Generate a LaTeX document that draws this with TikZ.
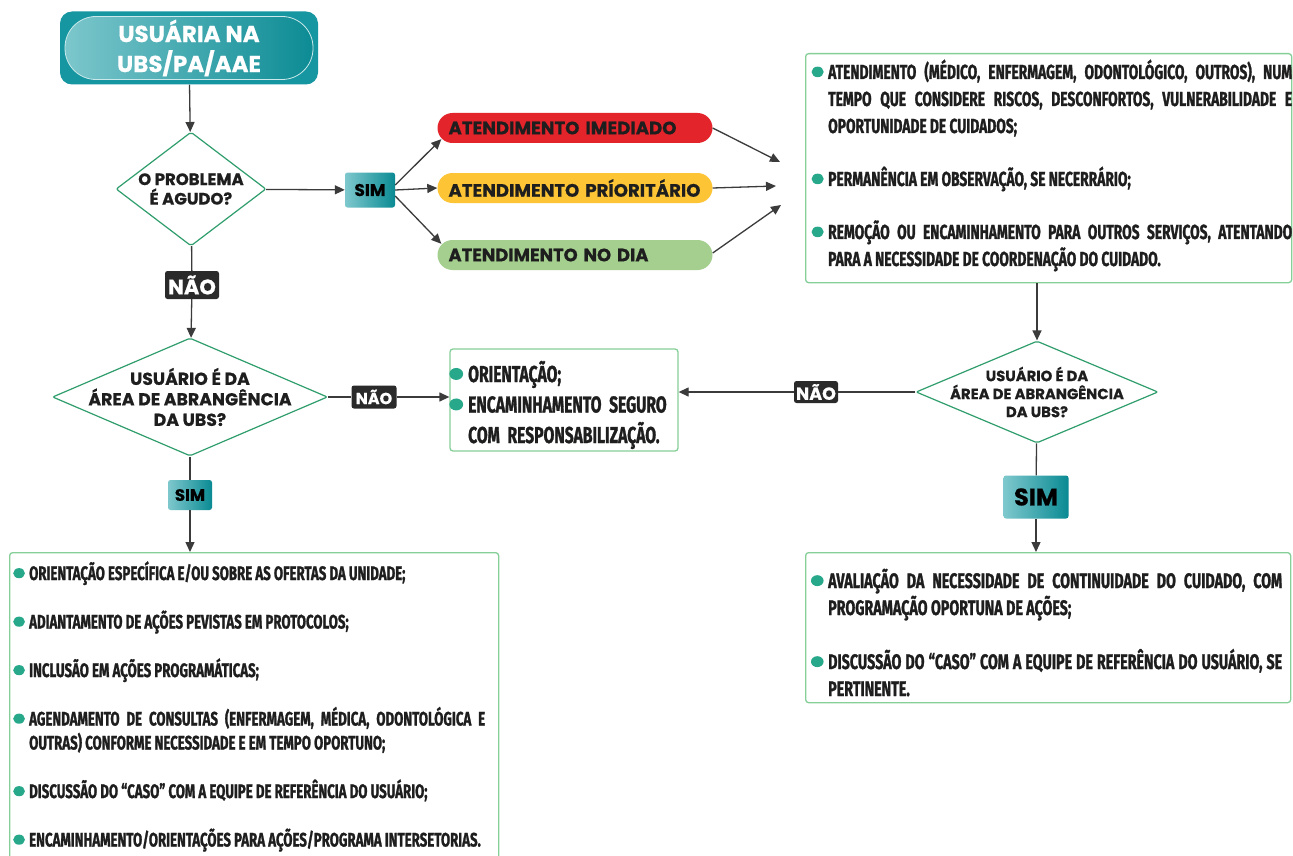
\documentclass[tikz,border=0pt]{standalone}
\usepackage{fontspec}
\usetikzlibrary{shapes.geometric,arrows.meta,calc}
\newfontfamily\headfont[FakeBold=0.6]{Poppins}
\newfontfamily\condfont[FakeStretch=0.68,FakeBold=1.2]{Fira Sans}
\definecolor{linegray}{HTML}{3B3B3B}
\definecolor{diagreen}{HTML}{2F9D6C}
\definecolor{boxgreen}{HTML}{86CF98}
\definecolor{bulgreen}{HTML}{27A88A}
\definecolor{tealL}{HTML}{7EC8CD}
\definecolor{tealD}{HTML}{0A8A93}
\definecolor{tealM}{HTML}{1596A0}
\definecolor{naogray}{HTML}{2A2A2A}
\definecolor{pillred}{HTML}{E3242B}
\definecolor{pillyellow}{HTML}{FDC536}
\definecolor{pillgreen}{HTML}{A4CF8E}
\definecolor{textdark}{HTML}{1E1E1E}
\newcommand\bulletmark{\leavevmode\llap{\tikz[baseline=0pt,x=1em,y=1em]\fill[bulgreen]
  (0,0.35) ellipse[x radius=0.3, y radius=0.26];\hspace{0.22em}}}
\newcommand\pilltext[2]{\resizebox{#1}{\height}{#2}}
\tikzset{
  conn/.style={draw=linegray, line width=1.3pt},
  arr/.style={conn, -{Triangle[length=10pt,width=9pt]}},
  decision/.style={diamond, draw=diagreen, line width=1.2pt, fill=white, inner sep=0pt,
    rounded corners=2pt},
  dtext/.style={align=center, text=textdark, inner sep=0pt},
  simbox/.style={rectangle, rounded corners=2.5pt, left color=tealL, right color=tealD,
    text=black, inner sep=0pt},
  naobox/.style={rectangle, rounded corners=2.5pt, fill=naogray, text=white, inner sep=0pt},
  infobox/.style={rectangle, draw=boxgreen, line width=1.3pt, rounded corners=3pt, fill=white, inner sep=0pt},
  pill/.style={rectangle, rounded corners=15pt, minimum width=275pt, minimum height=30pt,
    text width=253pt, inner xsep=11pt, inner ysep=0pt, align=left, text=textdark,
    font=\headfont\bfseries\fontsize{18}{20}\selectfont},
  listtext/.style={inner sep=0pt, align=justify, text=textdark},
  startbox/.style={rectangle, rounded corners=12pt, minimum width=258pt, minimum height=73pt,
    fill=tealM, text=white, align=center, inner sep=0pt,
    font=\headfont\bfseries\fontsize{23}{30}\selectfont,
    path picture={\shadedraw[left color=tealL, right color=tealD, draw=white!60!tealL, line width=0.8pt, rounded corners=31pt]
      ([shift={(5pt,-5pt)}]path picture bounding box.north west) rectangle
      ([shift={(-5pt,5pt)}]path picture bounding box.south east);}},
}
\begin{document}
\begin{tikzpicture}[x=1pt,y=-1pt]
\fill[white] (0,0) rectangle (1293,856);
\path[use as bounding box] (0,0) rectangle (1293,856);

% start
\node[startbox] (start) at (189,48) {USUÁRIA NA\\UBS/PA/AAE};

% decision 1
\node[decision, minimum width=150pt, minimum height=114pt] (d1) at (191,189) {};
\node[dtext, font=\headfont\bfseries\fontsize{16.5}{19.5}\selectfont] (d1t) at (d1) {O PROBLEMA\\É AGUDO?};
\node[simbox, minimum width=50pt, minimum height=35pt,
  font=\headfont\bfseries\fontsize{17}{20}\selectfont] (sim1) at (370,190) {SIM};

% pills
\node[pill, fill=pillred] (red) at (575,128) {\pilltext{228pt}{ATENDIMENTO IMEDIADO}};
\node[pill, fill=pillyellow] (yel) at (575,188) {\pilltext{252pt}{ATENDIMENTO PRÍORITÁRIO}};
\node[pill, fill=pillgreen] (grn) at (575,255) {\pilltext{200pt}{ATENDIMENTO NO DIA}};

\coordinate (c1) at (780,162);
\coordinate (c2) at (776,186);
\coordinate (c3) at (781,205);

% top-right box
\node[infobox, minimum width=486pt, minimum height=229pt, anchor=north west] (boxA) at (805,53) {};
\node[listtext, text width=464pt, anchor=base west,
  font=\condfont\bfseries\fontsize{20.3}{27}\selectfont] (tA) at (828,79)
 {\hyphenpenalty=10000\exhyphenpenalty=10000\setlength\parskip{26pt}%
  \bulletmark ATENDIMENTO (MÉDICO, ENFERMAGEM, ODONTOLÓGICO, OUTROS), NUM\linebreak
  TEMPO QUE CONSIDERE RISCOS, DESCONFORTOS, VULNERABILIDADE E\linebreak
  OPORTUNIDADE DE CUIDADOS;\par
  \bulletmark PERMANÊNCIA EM OBSERVAÇÃO, SE NECERRÁRIO;\par
  \bulletmark REMOÇÃO OU ENCAMINHAMENTO PARA OUTROS SERVIÇOS, ATENTANDO\linebreak
  PARA A NECESSIDADE DE COORDENAÇÃO DO CUIDADO.};

% NÃO 1 and decision 2
\node[naobox, minimum width=54pt, minimum height=28pt,
  font=\headfont\bfseries\fontsize{21}{24}\selectfont] (nao1) at (192,285) {NÃO};
\node[decision, minimum width=275pt, minimum height=118pt] (d2) at (190,397) {};
\node[dtext, font=\headfont\bfseries\fontsize{17.3}{20.5}\selectfont] (d2t) at (d2)
  {USUÁRIO É DA\\ÁREA DE ABRANGÊNCIA\\DA UBS?};
\node[naobox, minimum width=45pt, minimum height=23pt,
  font=\headfont\bfseries\fontsize{16}{18}\selectfont] (nao2) at (374,397) {NÃO};

% middle box
\node[infobox, minimum width=228pt, minimum height=102pt] (mid) at (564,400) {};
\node[inner sep=0pt, text width=240pt, align=left, text=textdark, anchor=base west,
  font=\condfont\bfseries\fontsize{23}{30.5}\selectfont] (tM) at (468,382)
  {\hyphenpenalty=10000\exhyphenpenalty=10000%
  \bulletmark ORIENTAÇÃO;\\\bulletmark ENCAMINHAMENTO SEGURO\\COM RESPONSABILIZAÇÃO.};

% right decision
\node[decision, minimum width=242pt, minimum height=102pt] (d3) at (1037,392) {};
\node[dtext, font=\headfont\bfseries\fontsize{14.8}{18}\selectfont] (d3t) at (d3)
  {USUÁRIO É DA\\ÁREA DE ABRANGÊNCIA\\DA UBS?};
\node[naobox, minimum width=44pt, minimum height=22pt,
  font=\headfont\bfseries\fontsize{17.5}{19}\selectfont] (nao3) at (816,392) {NÃO};
\node[simbox, minimum width=65pt, minimum height=43pt,
  font=\headfont\bfseries\fontsize{24}{26}\selectfont] (sim3) at (1036,497) {SIM};

% left SIM
\node[simbox, minimum width=44pt, minimum height=30pt,
  font=\headfont\bfseries\fontsize{16.5}{18}\selectfont] (sim2) at (190,495) {SIM};

% bottom-left box
\node[infobox, minimum width=489pt, minimum height=320pt, anchor=north west] (boxL) at (9,552) {};
\node[listtext, text width=456pt, anchor=base west,
  font=\condfont\bfseries\fontsize{19.5}{24}\selectfont] (tL) at (29,580)
 {\hyphenpenalty=10000\exhyphenpenalty=10000\setlength\parskip{24.5pt}%
  \bulletmark ORIENTAÇÃO ESPECÍFICA E/OU SOBRE AS OFERTAS DA UNIDADE;\par
  \bulletmark ADIANTAMENTO DE AÇÕES PEVISTAS EM PROTOCOLOS;\par
  \bulletmark INCLUSÃO EM AÇÕES PROGRAMÁTICAS;\par
  \bulletmark AGENDAMENTO DE CONSULTAS (ENFERMAGEM, MÉDICA, ODONTOLÓGICA E\linebreak
  OUTRAS) CONFORME NECESSIDADE E EM TEMPO OPORTUNO;\par
  \bulletmark DISCUSSÃO DO “CASO” COM A EQUIPE DE REFERÊNCIA DO USUÁRIO;\par
  \bulletmark \mbox{ENCAMINHAMENTO/ORIENTAÇÕES PARA AÇÕES/PROGRAMA INTERSETORIAS.}};

% bottom-right box
\node[infobox, minimum width=485pt, minimum height=150pt, anchor=north west] (boxR) at (805,552) {};
\node[listtext, text width=454pt, anchor=base west,
  font=\condfont\bfseries\fontsize{21}{27}\selectfont] (tR) at (828,588)
 {\hyphenpenalty=10000\exhyphenpenalty=10000\setlength\parskip{27pt}%
  \bulletmark AVALIAÇÃO DA NECESSIDADE DE CONTINUIDADE DO CUIDADO, COM\linebreak
  PROGRAMAÇÃO OPORTUNA DE AÇÕES;\par
  \bulletmark DISCUSSÃO DO “CASO” COM A EQUIPE DE REFERÊNCIA DO USUÁRIO, SE\linebreak
  PERTINENTE.};

% connectors
\draw[arr] (start) -- (d1);
\draw[arr] (d1) -- (sim1);
\draw[arr] ([yshift=5pt]sim1.east) -- ([xshift=4pt,yshift=4pt]red.south west);
\draw[arr] (sim1.east) -- (yel.west);
\draw[arr] ([yshift=-6pt]sim1.east) -- ([xshift=4pt,yshift=-4pt]grn.north west);
\draw[arr] (red.east) -- (c1);
\draw[arr] (yel.east) -- (c2);
\draw[arr] ([yshift=2pt]grn.east) -- (c3);
\draw[conn] (d1) -- (nao1);
\draw[arr] (nao1) -- (d2);
\draw[conn] (d2) -- (nao2);
\draw[arr] (nao2) -- (nao2 -| mid.west);
\draw[conn] (d3) -- (nao3);
\draw[arr] (nao3) -- (nao3 -| mid.east);
\draw[arr] (boxA.south -| d3) -- (d3);
\draw[conn] (d3) -- (sim3);
\draw[arr] (sim3) -- (sim3 |- boxR.north);
\draw[conn] (d2) -- (sim2);
\draw[arr] (sim2) -- (sim2 |- boxL.north);
\end{tikzpicture}
\end{document}
